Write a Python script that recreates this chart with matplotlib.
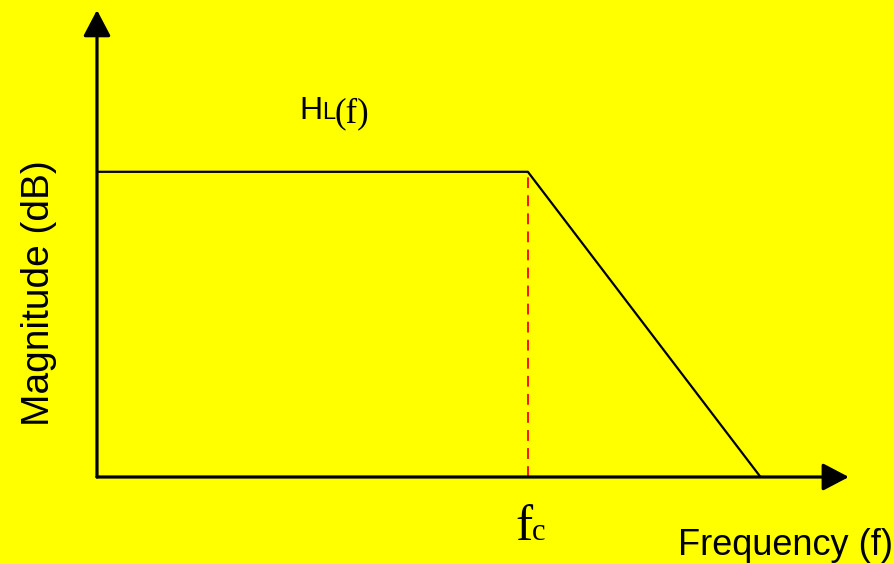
import matplotlib
matplotlib.use("Agg")
import matplotlib.pyplot as plt

# Ideal low-pass response (normalised units: fc = 1, passband level = 1)
freq = [0.0, 1.0, 1.54]
magnitude = [1.0, 1.0, 0.0]
fc = 1.0
passband = 1.0

W, H = 895, 564
fig = plt.figure(figsize=(W / 100, H / 100), dpi=100, facecolor="#ffff00")

# axes origin at pixel (97, 477)
ax = fig.add_axes([97 / W, (H - 477) / H, 754 / W, 470 / H])
ax.set_facecolor("#ffff00")
ax.set_xlim(0, 1.75)
ax.set_ylim(0, 1.54)
ax.axis("off")

# axes with arrow heads
arrow = dict(arrowstyle="-|>,head_length=0.8,head_width=0.42", mutation_scale=20,
             color="black", lw=2.3, shrinkA=0, shrinkB=0)
ax.annotate("", xy=(1.745, 0), xytext=(0, 0), xycoords="data", arrowprops=arrow,
            annotation_clip=False)
ax.annotate("", xy=(0, 1.53), xytext=(0, 0), xycoords="data", arrowprops=arrow,
            annotation_clip=False)

ax.plot(freq, magnitude, color="black", lw=1.6, solid_capstyle="butt", clip_on=False)
ax.plot([fc, fc], [0, passband], color="red", lw=1.3, ls=(0, (6, 4)), zorder=1)

def fx(x):
    return x / W

def fy(y):
    return 1 - y / H

sans = "Liberation Sans"
serif = "Liberation Serif"

fig.text(fx(299), fy(119), "H", fontsize=23, family=sans, va="baseline")
fig.text(fx(322), fy(119), "L", fontsize=17, family=sans, va="baseline")
fig.text(fx(335), fy(122), "(f)", fontsize=25, family=serif, va="baseline")

fig.text(fx(515), fy(540), "f", fontsize=37, family=serif, va="baseline")
fig.text(fx(532), fy(540), "c", fontsize=22, family=serif, va="baseline")

fig.text(fx(678), fy(555), "Frequency (f)", fontsize=26, family=sans, va="baseline")
fig.text(fx(39), fy(293), "Magnitude (dB)", fontsize=28, family=sans,
         rotation=90, ha="center", va="center")

fig.savefig("out.png", dpi=100, facecolor="#ffff00")
